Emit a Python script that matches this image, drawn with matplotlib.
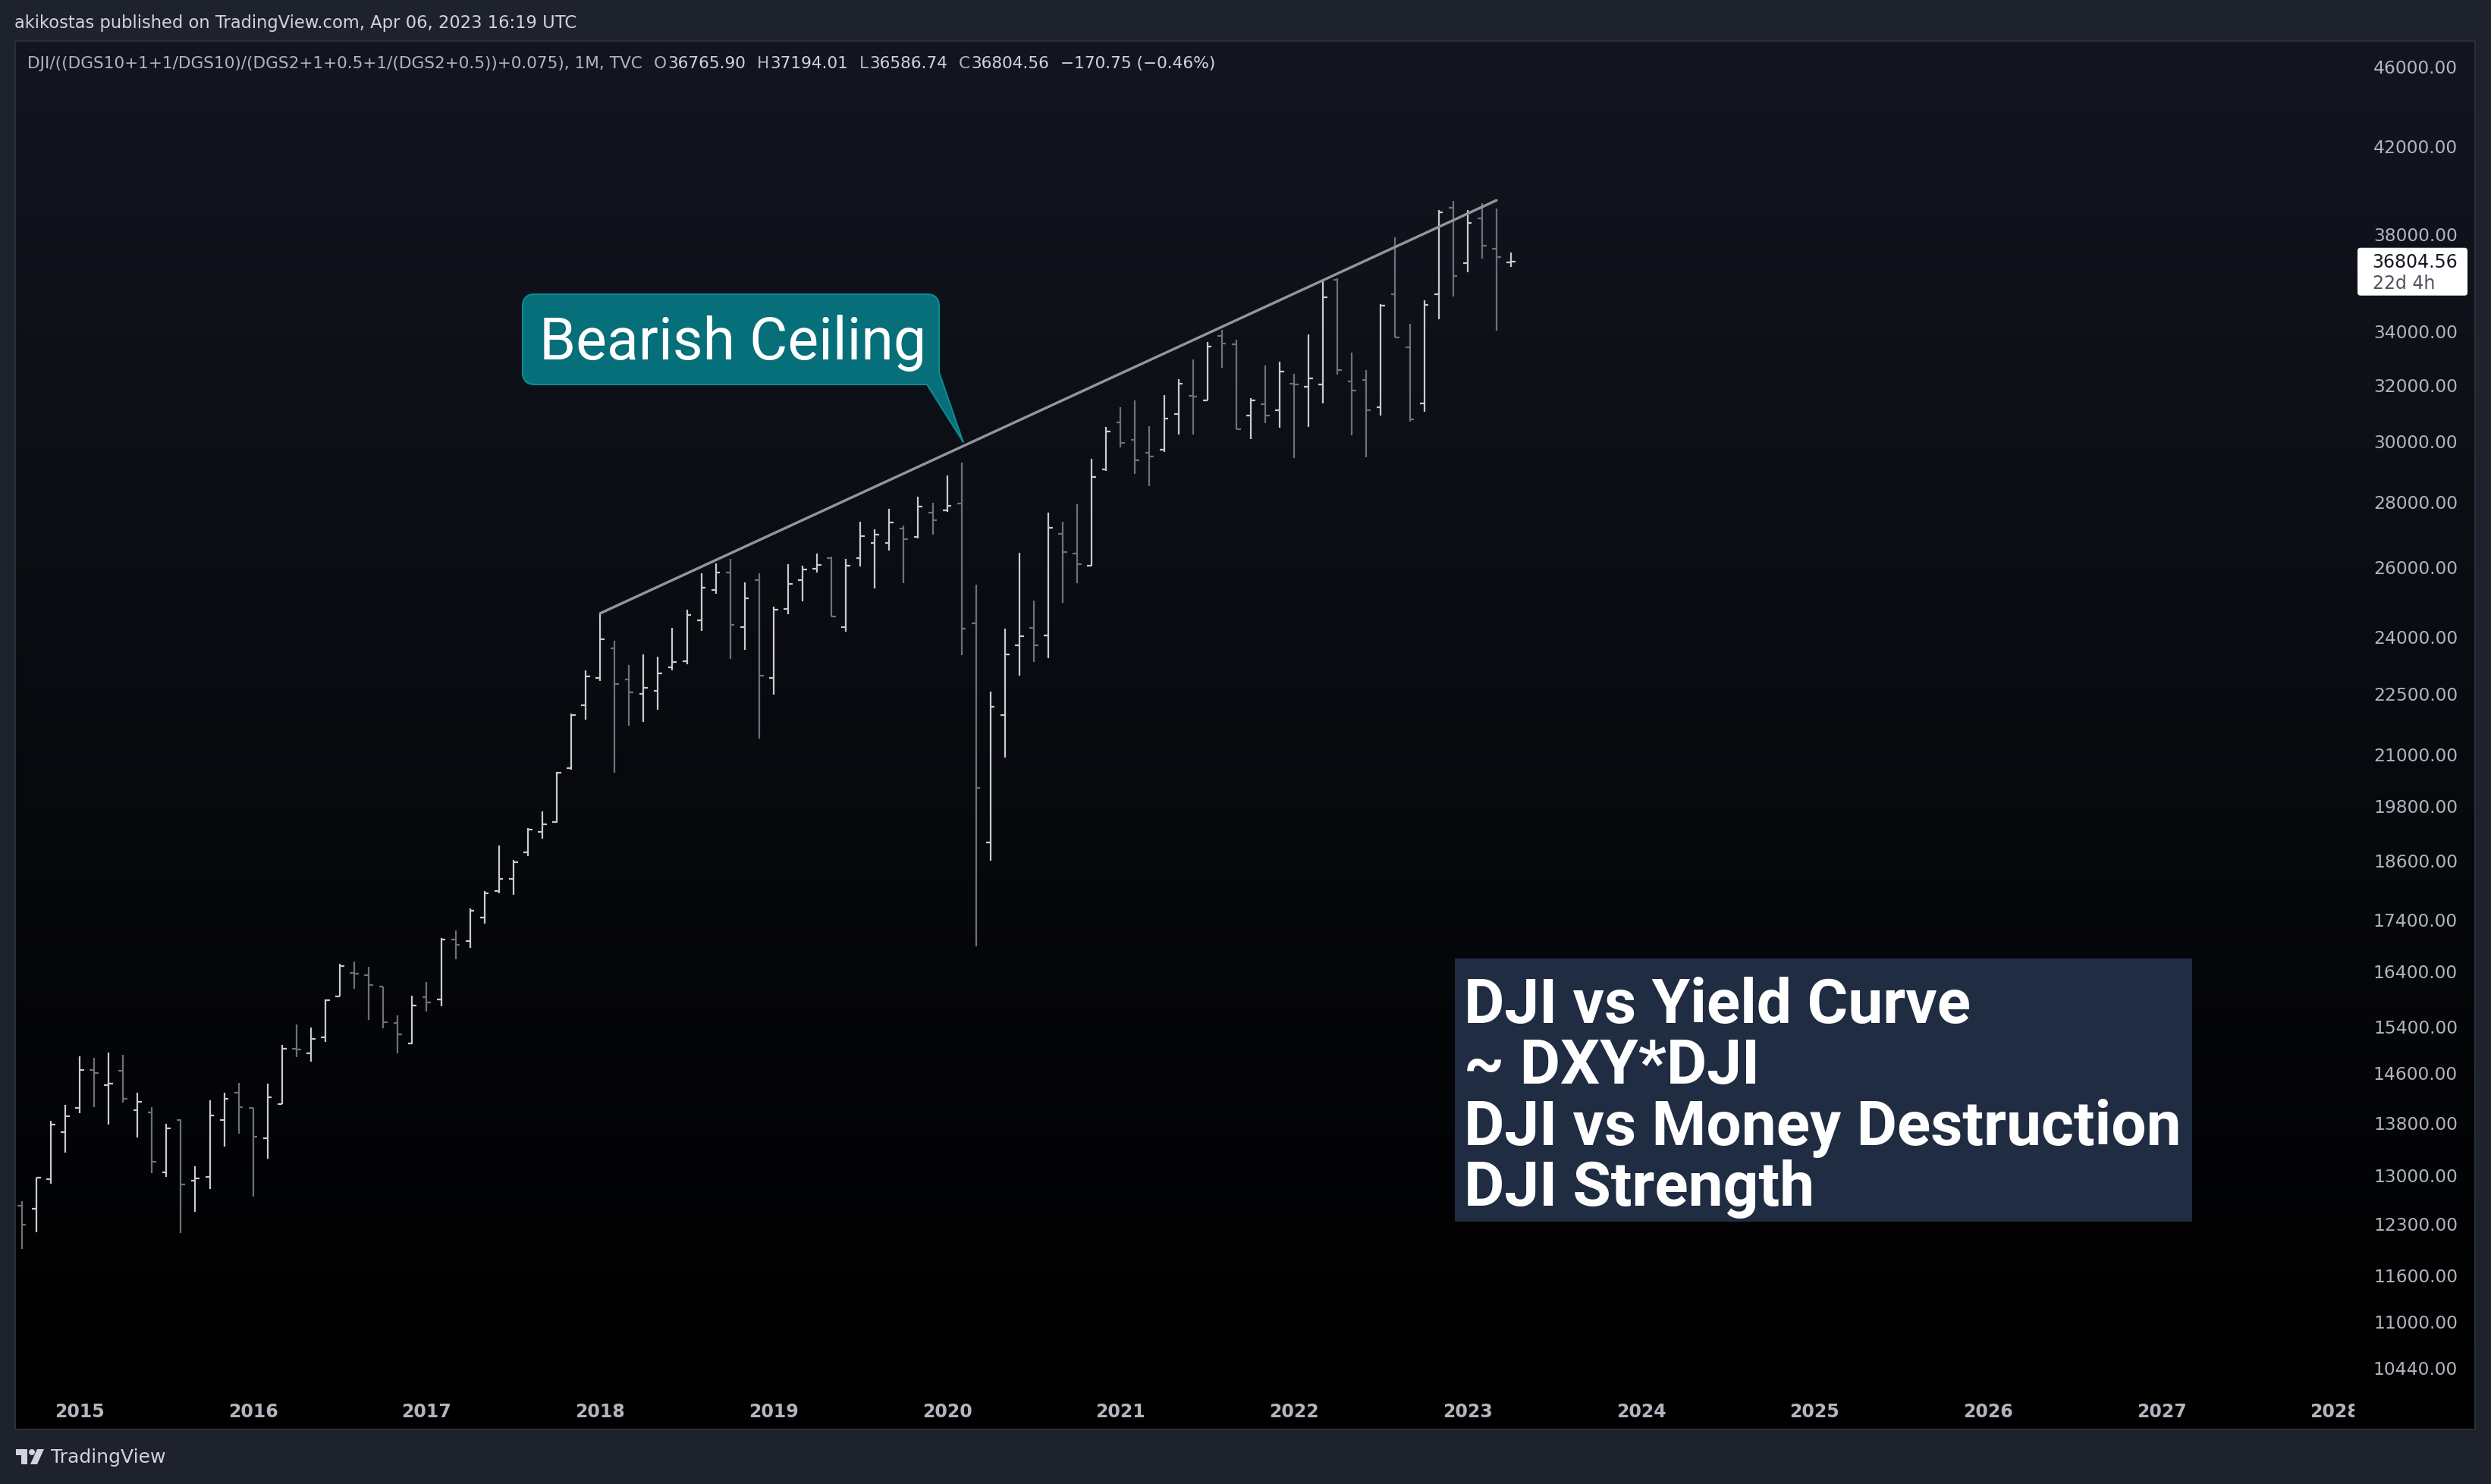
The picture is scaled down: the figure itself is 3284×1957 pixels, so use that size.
import numpy as np
import pandas as pd
import matplotlib
matplotlib.use("Agg")
import matplotlib.pyplot as plt
from matplotlib.patches import FancyBboxPatch, Polygon, Rectangle, Circle
from matplotlib.transforms import IdentityTransform, blended_transform_factory
from matplotlib.ticker import NullLocator
from matplotlib.lines import Line2D

# monthly OHLC, Sep 2014 .. Apr 2023
dates = pd.date_range("2014-09-01", "2023-04-01", freq="MS")

opens = [12547, 12502, 12927, 13647, 14025, 14646, 14388, 14635, 13989, 13953,
         13035, 13831, 12903, 12965, 13831, 14272, 14020, 13553, 14087, 15007,
         14920, 15204, 15929, 16351, 16321, 16110, 15444, 15099, 15912, 15866,
         16989, 16964, 17419, 17950, 18204, 18765, 19206, 19425, 20662, 22194,
         22889, 23686, 22854, 22479, 22565, 23169, 23336, 24444, 25304, 25824,
         24256, 25588, 22889, 24765, 25588, 25932, 26236, 24266, 26236, 26703,
         26693, 27142, 26896, 27643, 27707, 27940, 24368, 18984, 21949, 23765,
         24246, 24029, 26987, 26385, 26018, 29031, 30643, 30028, 29583, 29697,
         30940, 31584, 31423, 33800, 33475, 30862, 31276, 31049, 32011, 31905,
         31984, 36055, 32103, 32157, 31168, 35448, 33360, 31303, 35448, 39132,
         36721, 38638, 37334, 36765.90]
highs = [12615, 12955, 13826, 14072, 14871, 14844, 14936, 14898, 14272, 14036,
         13775, 13846, 13117, 14149, 14272, 14435, 14020, 14424, 15062, 15421,
         15376, 15866, 16524, 16566, 16477, 16110, 15589, 15940, 16190, 17026,
         17173, 17601, 17962, 18920, 18606, 19293, 19658, 20568, 21984, 23090,
         24642, 23895, 23239, 23522, 23459, 24236, 24756, 25788, 26080, 26226,
         25539, 25794, 24831, 26070, 26022, 26388, 26296, 26216, 27347, 27126,
         27760, 27245, 28143, 27961, 28847, 29262, 25471, 22542, 24218, 26405,
         25003, 27645, 27358, 27917, 29393, 30478, 31169, 31410, 30515, 31610,
         32172, 32926, 33567, 34033, 33653, 31503, 32675, 32842, 32388, 33858,
         36086, 36116, 33177, 32523, 35066, 37841, 34266, 35196, 39019, 39431,
         39035, 39317, 39085, 37194.01]
lows = [11947, 12175, 12866, 13323, 13942, 14041, 13765, 14108, 13558, 13021,
        12965, 12157, 12461, 12781, 13421, 13617, 12676, 13231, 14082, 14865,
        14790, 15121, 15923, 16063, 15506, 15353, 14931, 15082, 15653, 15750,
        16615, 16834, 17300, 17910, 17876, 18679, 19062, 19418, 20623, 21832,
        22810, 20545, 21680, 21782, 22085, 23090, 23248, 24153, 25198, 23404,
        23640, 21366, 22457, 24616, 24993, 25824, 24548, 24127, 26002, 25355,
        26467, 25500, 26836, 26968, 27654, 23495, 16857, 18587, 20916, 22945,
        23320, 23420, 24944, 25514, 26018, 28975, 29772, 28878, 28497, 29621,
        30220, 30220, 31423, 32605, 30400, 30054, 30606, 30438, 29415, 30476,
        31318, 32341, 30181, 29453, 30871, 33742, 30663, 31001, 34470, 35359,
        36346, 36939, 34020, 36586.74]
closes = [12273, 12955, 13760, 13892, 14646, 14592, 14424, 14175, 14123, 13189,
          13697, 12847, 12941, 13907, 14175, 14041, 13568, 14190, 15007, 14996,
          15176, 15860, 16481, 16339, 16139, 15461, 15249, 15762, 15820, 16995,
          16896, 17562, 17907, 18200, 18559, 19264, 19380, 20553, 21950, 22942,
          23922, 22740, 22530, 22635, 23012, 23310, 24600, 25373, 25824, 24331,
          25071, 22959, 24737, 25490, 25903, 26031, 24557, 26022, 26907, 26948,
          27337, 26825, 27845, 27400, 27866, 24208, 20202, 22158, 23520, 24010,
          23765, 27167, 26426, 26059, 28798, 30311, 29925, 29332, 29457, 30758,
          32011, 31557, 33393, 33503, 30400, 31423, 30862, 32465, 31990, 32214,
          35342, 32523, 31768, 31066, 35010, 33756, 30741, 35024, 38939, 36208,
          38453, 37477, 36975, 36804.56]

price_ticks = [46000, 42000, 38000, 34000, 32000, 30000, 28000, 26000, 24000,
               22500, 21000, 19800, 18600, 17400, 16400, 15400, 14600, 13800,
               13000, 12300, 11600, 11000, 10440]
years = list(range(2015, 2029))

trend_dates = ["2018-01-01", "2023-03-01"]
trend_values = [24642, 39460]

last_price = 36804.56
countdown = "22d 4h"
header = "akikostas published on TradingView.com, Apr 06, 2023 16:19 UTC"
symbol = "DJI/((DGS10+1+1/DGS10)/(DGS2+1+0.5+1/(DGS2+0.5))+0.075), 1M, TVC"
ohlc_labels = ["O", "H", "L", "C"]
ohlc_values = ["36765.90", "37194.01", "36586.74", "36804.56"]
change = "\u2212170.75 (\u22120.46%)"
callout = "Bearish Ceiling"
notes = ["DJI vs Yield Curve", "~ DXY*DJI", "DJI vs Money Destruction", "DJI Strength"]

W, H = 3284, 1958
UP, DOWN = "#c9cbd1", "#6e717b"
TXT = "#b2b5be"


def months(d):
    d = pd.to_datetime(d)
    return (d.year - 2015) * 12 + d.month - 1


fig = plt.figure(figsize=(W / 100, H / 100), dpi=100, facecolor="#1e222d")
ident = IdentityTransform()

# pane geometry in pixels (from top-left)
pane_l, pane_r, pane_t, pane_b = 20, 3263, 55, 1886
chart_r = 3104

bg = fig.add_axes([pane_l / W, 1 - pane_b / H, (pane_r - pane_l) / W, (pane_b - pane_t) / H], zorder=0)
t = np.linspace(0, 1, 512)[:, None]
top = np.array([19, 22, 32]) / 255
grad = top * (1 - t) ** 1.1
bg.imshow(grad[:, None, :], aspect="auto", extent=[0, 1, 0, 1], interpolation="bilinear")
bg.set_axis_off()

ax = fig.add_axes([pane_l / W, 1 - pane_b / H, (chart_r - pane_l) / W, (pane_b - pane_t) / H], zorder=1)
ax.set_facecolor("none")
ax.set_yscale("log")
jan15_px, month_px = 105, 19.06
ax.set_xlim((pane_l - jan15_px) / month_px, (chart_r - jan15_px) / month_px)
ref_px, ref_val, log_px = 87.7, 46000, 1157
ax.set_ylim(ref_val * np.exp(-(pane_b - ref_px) / log_px), ref_val * np.exp((ref_px - pane_t) / log_px))

ax.yaxis.tick_right()
ax.set_yticks(price_ticks, labels=[f"{v:.2f}" for v in price_ticks])
ax.yaxis.set_minor_locator(NullLocator())
ax.tick_params(axis="y", which="both", length=0, pad=(3240 - chart_r) * 0.72,
               labelsize=16.8, labelcolor=TXT)
for lbl in ax.get_yticklabels():
    lbl.set_horizontalalignment("right")
ax.set_xticks([])
for s in ax.spines.values():
    s.set_visible(False)

# year labels on the time scale
tr = blended_transform_factory(ax.transData, ax.transAxes)
yl = (pane_b - 1862) / (pane_b - pane_t)
for yr in years:
    ax.text((yr - 2015) * 12, yl, str(yr), transform=tr, ha="center", va="center",
            fontsize=17, fontweight="bold", color=TXT, clip_on=True)

# OHLC bars
x = np.array(months(dates))
o, h, l, c = map(np.array, (opens, highs, lows, closes))
cols = np.where(c >= o, UP, DOWN)
tick = 0.3
ax.vlines(x, l, h, colors=cols, lw=1.6)
ax.hlines(o, x - tick, x, colors=cols, lw=1.6)
ax.hlines(c, x, x + tick, colors=cols, lw=1.6)

# trend line
tx = [months(d) for d in trend_dates]
ax.plot(tx, trend_values, color="#93959c", lw=2.5, solid_capstyle="round")

# pane border
fig.add_artist(Rectangle((pane_l, H - pane_b), pane_r - pane_l, pane_b - pane_t, transform=ident,
                         fill=False, ec="#2a2e39", lw=1.5, zorder=5))

# callout "Bearish Ceiling"
teal, teal_edge = "#066f79", "#0b8c97"
fig.add_artist(FancyBboxPatch((689, H - 508), 549, 119, boxstyle="round,pad=0,rounding_size=16",
                              transform=ident, fc=teal, ec=teal_edge, lw=1.5, zorder=6))
tip_m = 61.1
tip_v = np.exp(np.interp(tip_m, tx, np.log(trend_values)))
tip = ax.transData.transform((tip_m, tip_v)) + np.array([0, 6])
base1, base2 = (1222, H - 508), (1238, H - 492)
fig.add_artist(Polygon([(1205, H - 494), base1, tuple(tip), base2, (1224, H - 478)], closed=True,
                       transform=ident, fc=teal, ec="none", zorder=7))
for b in (base1, base2):
    fig.add_artist(Line2D([b[0], tip[0]], [b[1], tip[1]], transform=ident, color=teal_edge, lw=1.5, zorder=7))
fig.text(711 / W, 1 - 474 / H, callout, fontsize=55.5, family="Roboto", color="white",
         va="baseline", zorder=8)

# notes box
fig.add_artist(Rectangle((1918, H - 1612), 972, 347, transform=ident, fc="#1f2c42", ec="none", zorder=6))
for i, line in enumerate(notes):
    fig.text(1930 / W, 1 - (1349 + 80.3 * i) / H, line, fontsize=59, family="Roboto",
             fontweight="bold", color="white", va="baseline", zorder=8)

# last price label
py = ax.transData.transform((0, last_price))[1]
fig.add_artist(FancyBboxPatch((3108, py - 45), 145, 63, boxstyle="round,pad=0,rounding_size=4",
                              transform=ident, fc="white", ec="none", zorder=6))
fig.text(3240 / W, py / H, f"{last_price:.2f}", fontsize=17, color="#131722", ha="right", va="center", zorder=8)
fig.text(3128 / W, (py - 28) / H, countdown, fontsize=17, color="#50535e", ha="left", va="center", zorder=8)

# header and legend
fig.text(19 / W, 1 - 31 / H, header, fontsize=16.3, color="#d1d4dc", va="center")
renderer = fig.canvas.get_renderer()
ly = 1 - 84 / H
cur = 36
parts = [(symbol, TXT, 15)]
for lab, val in zip(ohlc_labels, ohlc_values):
    parts.append((lab, TXT, 1))
    parts.append((val, "#d1d4dc", 15))
parts.append((change, "#d1d4dc", 0))
for txt, col, gap in parts:
    tt = fig.text(cur / W, ly, txt, fontsize=15.6, color=col, va="center")
    cur = tt.get_window_extent(renderer).x1 + gap

# TradingView logo
lc = "#d1d4dc"
fig.add_artist(Rectangle((21, H - 1920), 15, 8, transform=ident, fc=lc, ec="none"))
fig.add_artist(Rectangle((28, H - 1932), 8, 20, transform=ident, fc=lc, ec="none"))
fig.add_artist(Circle((42, H - 1916), 4, transform=ident, fc=lc, ec="none"))
fig.add_artist(Polygon([(49, H - 1912), (58, H - 1912), (49, H - 1932), (40, H - 1932)],
                       transform=ident, fc=lc, ec="none"))
fig.text(67 / W, 1 - 1922 / H, "TradingView", fontsize=18, color=lc, va="center")

fig.savefig("out.png", dpi=100, facecolor=fig.get_facecolor())
